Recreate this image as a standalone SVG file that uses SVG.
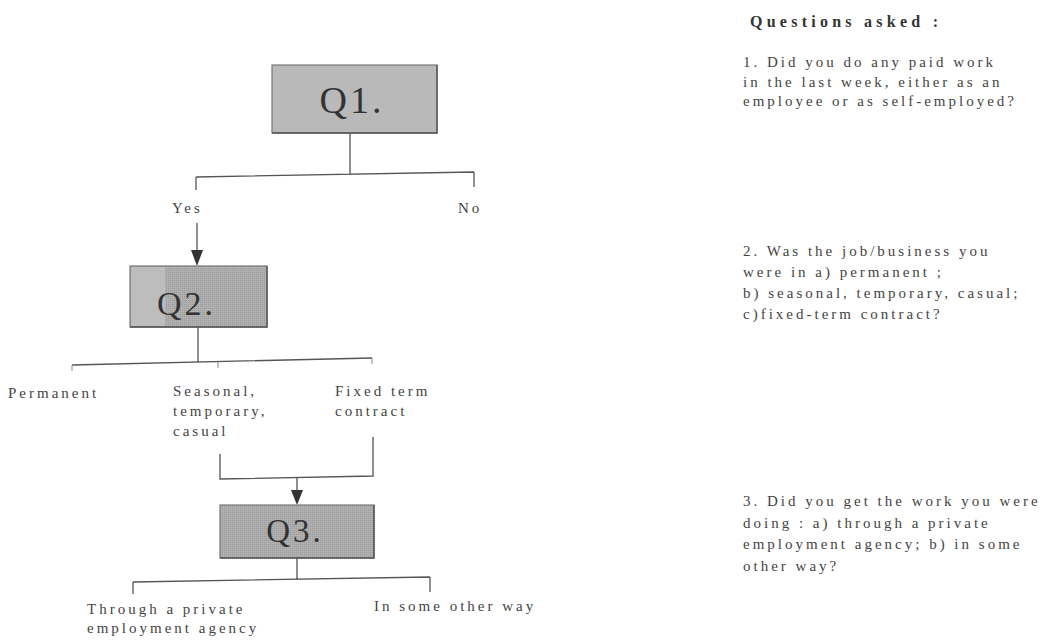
<svg xmlns="http://www.w3.org/2000/svg" width="1043" height="641" viewBox="0 0 1043 641">
<style>
.lbl{font-family:"Liberation Serif","Times New Roman",serif;font-size:15px;fill:#444;letter-spacing:3px}
.q{font-family:"Liberation Serif","Times New Roman",serif;fill:#333;letter-spacing:3px}
.ln{stroke:#555;stroke-width:1.3;fill:none}
.tk{stroke:#888;stroke-width:1;fill:none}
.box{stroke:#777;stroke-width:1.2}
.edge{stroke:#555;stroke-width:1.4;fill:none}
.hd{font-family:"Liberation Serif","Times New Roman",serif;font-size:16px;font-weight:bold;fill:#333}
</style>
<defs>
<pattern id="dith" width="2" height="2" patternUnits="userSpaceOnUse">
<rect width="2" height="2" fill="#b0b0b0"/>
<rect width="1" height="1" fill="#9a9a9a"/>
</pattern>
</defs>
<rect width="1043" height="641" fill="#fff"/>
<g id="connectors">
<path class="ln" d="M350,133 V175 M196,177 L474,172 M196,177 V190 M474,172 V187"/>
<path class="ln" d="M197,223 V250"/>
<path d="M191,250 L203,250 L197,266 Z" fill="#333"/>
<path class="ln" d="M198,327 V362 M72,365 L372,358"/>
<path class="tk" d="M72,365 V371 M218,362 V368 M372,358 V364"/>
<path class="ln" d="M220,454 V479 L373,476 V437 M297,478 V490"/>
<path d="M291,490 L303,490 L297,505 Z" fill="#333"/>
<path class="ln" d="M297,558 V580 M133,582 L430,577 M133,582 V594 M430,577 V592"/>
</g>
<g id="q1">
<rect class="box" x="272" y="65" width="165" height="68" fill="#b9b9b9"/>
<path class="edge" d="M437,65 V133 H272"/>
<text class="q" x="352" y="113" font-size="38" text-anchor="middle">Q1.</text>
</g>
<g id="q2">
<rect class="box" x="130" y="266" width="137" height="61" fill="url(#dith)"/>
<rect x="131" y="267" width="34" height="59" fill="#bdbdbd"/>
<path class="edge" d="M267,266 V327 H130"/>
<text class="q" x="157" y="315" font-size="34">Q2.</text>
</g>
<g id="q3">
<rect class="box" x="220" y="505" width="154" height="53" fill="url(#dith)"/>
<path class="edge" d="M374,505 V558 H220"/>
<text class="q" x="295" y="542" font-size="33" text-anchor="middle">Q3.</text>
</g>
<g id="answers">
<text class="lbl" x="172" y="213">Yes</text>
<text class="lbl" x="458" y="213">No</text>
<text class="lbl" x="8" y="398">Permanent</text>
<text class="lbl" x="173" y="396" letter-spacing="2.2">Seasonal,</text>
<text class="lbl" x="173" y="416" letter-spacing="2.2">temporary,</text>
<text class="lbl" x="173" y="436" letter-spacing="2.2">casual</text>
<text class="lbl" x="335" y="396">Fixed term</text>
<text class="lbl" x="335" y="416">contract</text>
<text class="lbl" x="87" y="614">Through a private</text>
<text class="lbl" x="87" y="633">employment agency</text>
<text class="lbl" x="374" y="611">In some other way</text>
</g>
<g id="questions">
<text class="hd" x="750" y="27" textLength="188">Questions asked :</text>
<text class="lbl" x="743" y="67">1. Did you do any paid work</text>
<text class="lbl" x="743" y="87">in the last week, either as an</text>
<text class="lbl" x="743" y="106">employee or as self-employed?</text>
<text class="lbl" x="743" y="256">2. Was the job/business you</text>
<text class="lbl" x="743" y="277">were in a) permanent ;</text>
<text class="lbl" x="743" y="298">b) seasonal, temporary, casual;</text>
<text class="lbl" x="743" y="319">c)fixed-term contract?</text>
<text class="lbl" x="743" y="506">3. Did you get the work you were</text>
<text class="lbl" x="743" y="528">doing : a) through a private</text>
<text class="lbl" x="743" y="549">employment agency; b) in some</text>
<text class="lbl" x="743" y="571">other way?</text>
</g>
</svg>
